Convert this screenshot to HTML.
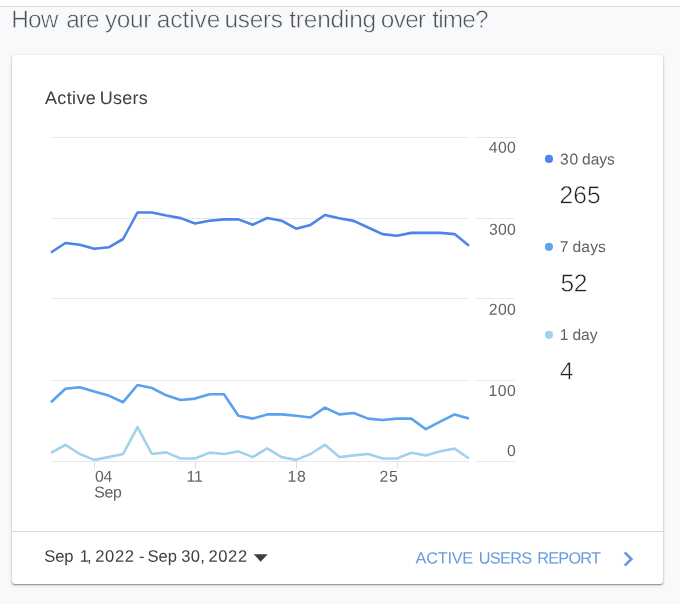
<!DOCTYPE html>
<html><head><meta charset="utf-8"><title>Active Users</title>
<style>
html,body{margin:0;padding:0}
body{width:680px;height:604px;overflow:hidden;background:#f8f9fa;font-family:"Liberation Sans",sans-serif;position:relative}
.topbar{position:absolute;left:0;top:0;width:680px;height:6px;background:#fff;border-bottom:1px solid #dadce0}
.card{position:absolute;left:12px;top:55px;width:651px;height:529px;background:#fff;border-radius:3px;box-shadow:0 1px 1px 0 rgba(0,0,0,.28),0 1px 2px 0 rgba(60,64,67,.2),0 1px 3px 1px rgba(60,64,67,.1)}
.divider{position:absolute;left:0;top:476px;width:651px;height:1px;background:#dcdcdc}
svg{position:absolute;left:0;top:0;will-change:transform}
svg text{font-family:"Liberation Sans",sans-serif;white-space:pre}
.q{fill:#4d5156;stroke:#f8f9fa;stroke-width:0.55px}
.ct{fill:#3c4043}
.date{fill:#3c4043}
.rep{fill:#659bdc}
.ax{fill:#5f6368}
.lg{fill:#5f6368}
.val{fill:#202124;stroke:#fff;stroke-width:0.55px}
</style></head><body>
<div class="topbar"></div>
<div class="card"><div class="divider"></div></div>
<svg width="680" height="604" viewBox="0 0 680 604">
<g class="q"><text x="11.25" y="27.4" font-size="24.4" letter-spacing="-0.875" transform="rotate(0.03 11.25 27.4)">How</text><text x="66.25" y="27.4" font-size="24.4" letter-spacing="-1.0" transform="rotate(0.03 66.25 27.4)">are</text><text x="105.0" y="27.4" font-size="24.4" letter-spacing="-0.333" transform="rotate(0.03 105.0 27.4)">your</text><text x="156.75" y="27.4" font-size="24.4" letter-spacing="-0.05" transform="rotate(0.03 156.75 27.4)">active</text><text x="224.5" y="27.4" font-size="24.4" letter-spacing="-0.312" transform="rotate(0.03 224.5 27.4)">users</text><text x="289.25" y="27.4" font-size="24.4" letter-spacing="-0.179" transform="rotate(0.03 289.25 27.4)">trending</text><text x="380.75" y="27.4" font-size="24.4" letter-spacing="-0.667" transform="rotate(0.03 380.75 27.4)">over</text><text x="432.25" y="27.4" font-size="24.4" letter-spacing="-0.85" transform="rotate(0.03 432.25 27.4)">time?</text></g>
<g class="ct"><text x="44.9" y="104.0" font-size="18" letter-spacing="0.38" transform="rotate(0.03 44.9 104.0)">Active</text><text x="99.85" y="104.0" font-size="18" letter-spacing="0.213" transform="rotate(0.03 99.85 104.0)">Users</text></g>
<g stroke="#e8e8e8" stroke-width="1" fill="none"><path d="M51 137.5H469M475 137.5H515"/><path d="M51 218.5H469M475 218.5H515"/><path d="M51 298.5H469M475 298.5H515"/><path d="M51 380.5H469M475 380.5H515"/><path d="M51 461.5H469M475 461.5H515"/></g>
<g stroke="#dedede" stroke-width="1" fill="none"><path d="M94.5 462V468.7"/><path d="M195.5 462V468.7"/><path d="M296.5 462V468.7"/><path d="M397.5 462V468.7"/></g>
<g fill="none" stroke-width="2.6" stroke-linejoin="round" stroke-linecap="butt">
<polyline stroke="#a0d3eb" points="51.0,452.8 65.4,444.8 79.8,454.0 94.2,459.9 108.7,457.1 123.1,454.0 137.5,427.2 151.9,454.0 166.3,452.4 180.7,458.5 195.1,458.5 209.6,452.6 224.0,454.0 238.4,451.4 252.8,457.1 267.2,448.4 281.6,457.1 296.0,459.9 310.5,454.0 324.9,444.8 339.3,457.1 353.7,455.4 368.1,454.0 382.5,458.5 396.9,458.5 411.3,452.8 425.8,455.4 440.2,451.2 454.6,448.6 469.0,458.5"/>
<polyline stroke="#5aa1ee" points="51.0,402.2 65.4,388.8 79.8,387.3 94.2,391.6 108.7,395.6 123.1,402.2 137.5,385.0 151.9,388.0 166.3,395.3 180.7,400.0 195.1,398.6 209.6,394.2 224.0,394.2 238.4,415.8 252.8,418.6 267.2,414.4 281.6,414.4 296.0,415.8 310.5,417.5 324.9,407.6 339.3,414.4 353.7,413.0 368.1,418.6 382.5,420.0 396.9,418.6 411.3,418.6 425.8,429.2 440.2,421.7 454.6,414.4 469.0,418.6"/>
<polyline stroke="#4d84e9" points="51.0,252.5 65.4,243.0 79.8,244.7 94.2,248.7 108.7,247.3 123.1,239.0 137.5,212.5 151.9,212.5 166.3,215.5 180.7,218.1 195.1,223.5 209.6,220.8 224.0,219.4 238.4,219.4 252.8,224.7 267.2,218.0 281.6,220.7 296.0,228.7 310.5,224.9 324.9,215.0 339.3,218.3 353.7,220.9 368.1,227.5 382.5,234.1 396.9,235.7 411.3,232.9 425.8,232.9 440.2,232.9 454.6,234.1 469.0,245.8"/>
</g>
<g class="ax"><text x="488.85" y="152.8" font-size="15.8" letter-spacing="0.275" transform="rotate(0.03 488.85 152.8)">400</text><text x="489.1" y="234.85" font-size="15.8" letter-spacing="0.15" transform="rotate(0.03 489.1 234.85)">300</text><text x="488.85" y="314.85" font-size="15.8" letter-spacing="0.275" transform="rotate(0.03 488.85 314.85)">200</text><text x="488.55" y="395.9" font-size="15.8" letter-spacing="0.5" transform="rotate(0.03 488.55 395.9)">100</text><text x="506.9" y="455.9" font-size="15.8" transform="rotate(0.03 506.9 455.9)">0</text><text x="95.0" y="481.8" font-size="15.8" letter-spacing="-0.25" transform="rotate(0.03 95.0 481.8)">04</text><text x="94.25" y="497.4" font-size="15.8" letter-spacing="-0.25" transform="rotate(0.03 94.25 497.4)">Sep</text><text x="186.55" y="481.8" font-size="15.8" letter-spacing="-0.05" transform="rotate(0.03 186.55 481.8)">11</text><text x="287.6" y="481.85" font-size="15.8" letter-spacing="0.5" transform="rotate(0.03 287.6 481.85)">18</text><text x="379.45" y="481.85" font-size="15.8" letter-spacing="0.9" transform="rotate(0.03 379.45 481.85)">25</text></g>
<circle cx="548.95" cy="158.9" r="4.05" fill="#4f84ea"/>
<circle cx="548.95" cy="246.85" r="4.05" fill="#5ca3f0"/>
<circle cx="548.95" cy="334.85" r="4.05" fill="#a0d3eb"/>
<g class="lg"><text x="560.1" y="164.5" font-size="15.6" letter-spacing="0.75" transform="rotate(0.03 560.1 164.5)">30</text><text x="582.05" y="164.5" font-size="15.6" letter-spacing="-0.033" transform="rotate(0.03 582.05 164.5)">days</text><text x="559.85" y="252.0" font-size="15.6" transform="rotate(0.03 559.85 252.0)">7</text><text x="572.55" y="252.0" font-size="15.6" letter-spacing="0.133" transform="rotate(0.03 572.55 252.0)">days</text><text x="559.65" y="340.0" font-size="15.6" transform="rotate(0.03 559.65 340.0)">1</text><text x="572.55" y="340.0" font-size="15.6" letter-spacing="-0.1" transform="rotate(0.03 572.55 340.0)">day</text></g>
<g class="val"><text x="559.4" y="203.35" font-size="24.6" letter-spacing="0.125" transform="rotate(0.03 559.4 203.35)">265</text><text x="560.45" y="291.4" font-size="24.6" letter-spacing="-0.3" transform="rotate(0.03 560.45 291.4)">52</text><text x="559.85" y="379.3" font-size="24.6" transform="rotate(0.03 559.85 379.3)">4</text></g>
<g class="date"><text x="44.15" y="561.8" font-size="16.6" letter-spacing="-0.05" transform="rotate(0.03 44.15 561.8)">Sep</text><text x="79.65" y="561.8" font-size="16.6" transform="rotate(0.03 79.65 561.8)">1</text><text x="87.1" y="561.8" font-size="16.6" transform="rotate(0.03 87.1 561.8)">,</text><text x="95.35" y="561.8" font-size="16.6" letter-spacing="0.55" transform="rotate(0.03 95.35 561.8)">2022</text><text x="138.95" y="561.8" font-size="16.6" transform="rotate(0.03 138.95 561.8)">-</text><text x="147.55" y="561.8" font-size="16.6" letter-spacing="-0.075" transform="rotate(0.03 147.55 561.8)">Sep</text><text x="181.25" y="561.8" font-size="16.6" letter-spacing="0.15" transform="rotate(0.03 181.25 561.8)">30</text><text x="200.3" y="561.8" font-size="16.6" transform="rotate(0.03 200.3 561.8)">,</text><text x="208.45" y="561.8" font-size="16.6" letter-spacing="0.6" transform="rotate(0.03 208.45 561.8)">2022</text></g>
<g class="rep"><text x="415.6" y="563.5" font-size="16.3" letter-spacing="-0.25" transform="rotate(0.03 415.6 563.5)">ACTIVE</text><text x="478.75" y="563.5" font-size="16.3" letter-spacing="-0.688" transform="rotate(0.03 478.75 563.5)">USERS</text><text x="537.25" y="563.5" font-size="16.3" letter-spacing="-0.77" transform="rotate(0.03 537.25 563.5)">REPORT</text></g>
<path d="M253.7 554.3H267.7L260.7 561.7Z" fill="#3c4043"/>
<path d="M624.7 552.3L631.4 559L624.7 565.7" fill="none" stroke="#6399db" stroke-width="2.6"/>
</svg>
</body></html>
